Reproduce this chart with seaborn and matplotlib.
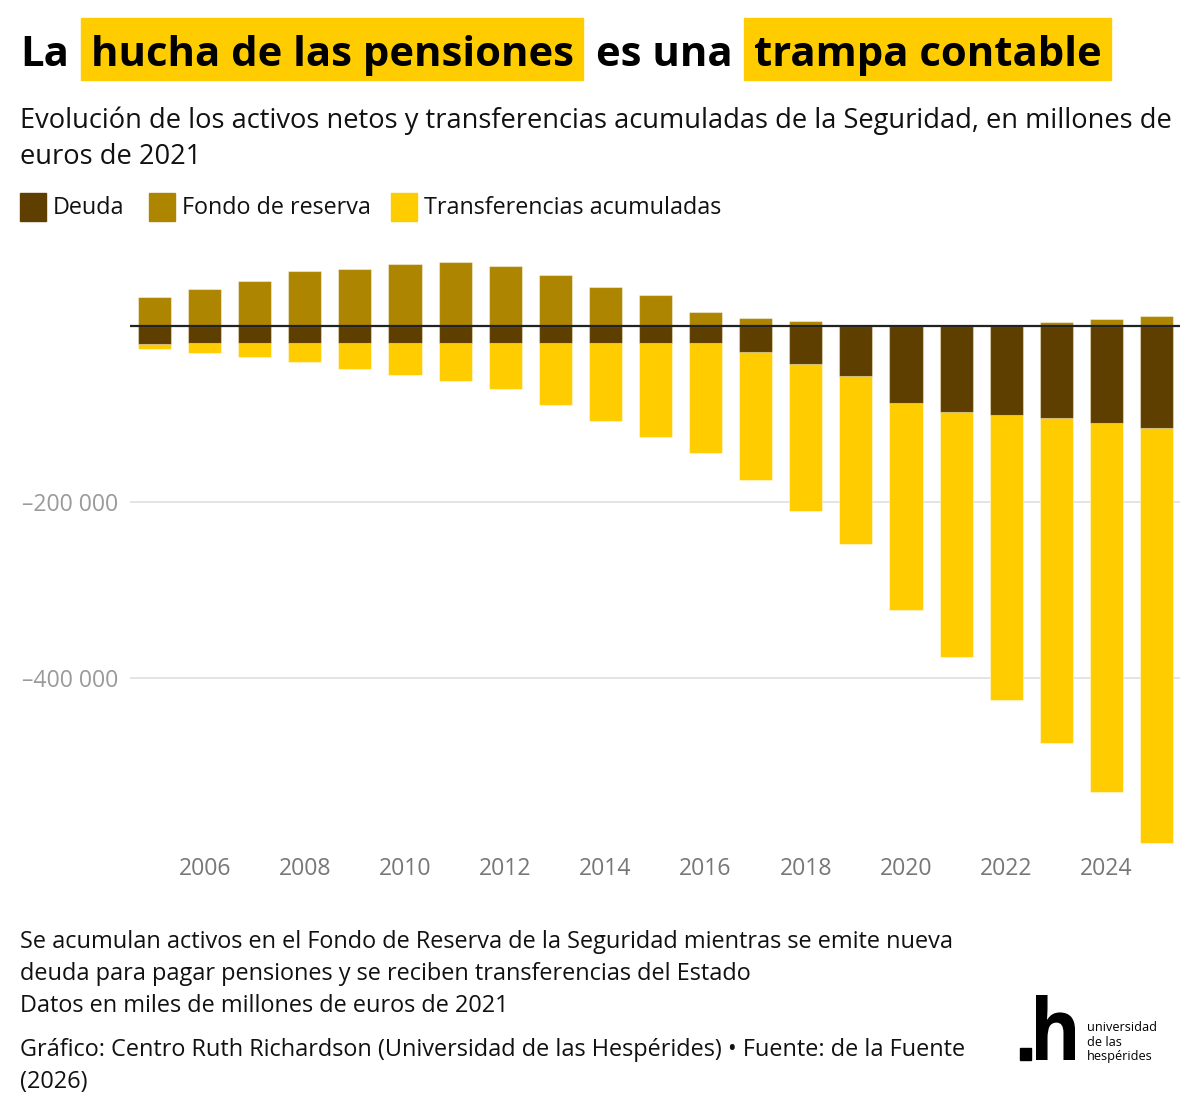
import numpy as np
import pandas as pd
import matplotlib
matplotlib.use("Agg")
import matplotlib.pyplot as plt
import seaborn as sns
from matplotlib.patches import Rectangle, PathPatch
from matplotlib.textpath import TextPath
from matplotlib.font_manager import FontProperties
from matplotlib.transforms import Affine2D

# data (millones de euros de 2021)
years = list(range(2005, 2026))
fondo = [33000, 42000, 51100, 62800, 65500, 70500, 72700, 68900, 58300, 45000,
         35200, 15900, 9800, 5700, 1500, 1200, 1200, 1200, 4900, 8000, 11700]
deuda = [-20500, -19300, -18400, -18400, -18400, -18400, -18400, -18400, -18400, -18400,
         -18400, -18400, -28900, -43200, -56500, -87200, -97000, -100800, -104200, -109900, -115600]
transferencias = [-5000, -11000, -16800, -22500, -29800, -36900, -43700, -52800, -71400, -89200,
                  -107400, -125300, -145500, -167000, -191300, -234900, -278400, -323900, -369000, -419000, -471300]

legend_labels = ["Deuda", "Fondo de reserva", "Transferencias acumuladas"]
colors = ["#5e3f00", "#ad8500", "#ffcc00"]

df = pd.DataFrame({"year": years, "fondo": fondo, "deuda": deuda, "transf": transferencias})
df["total_neg"] = df["deuda"] + df["transf"]

sns.set_theme(style="white")
plt.rcParams["font.family"] = ["Open Sans", "Noto Sans", "DejaVu Sans"]

W, H = 1200, 1119
fig = plt.figure(figsize=(W / 100, H / 100), dpi=100)
ax = fig.add_axes([130 / W, 1 - 850 / H, 1050 / W, 600 / H])

bar_kw = dict(width=0.66, saturation=1, errorbar=None, ax=ax,
              edgecolor=(1, 1, 1, 0.45), linewidth=0.8)
# yellow = deuda + transferencias, dark deuda drawn on top of it
sns.barplot(data=df, x="year", y="total_neg", color=colors[2], **bar_kw)
sns.barplot(data=df, x="year", y="deuda", color=colors[0], **bar_kw)
sns.barplot(data=df, x="year", y="fondo", color=colors[1], **bar_kw)

ax.set_xlim(-0.49, 20.47)
ax.set_ylim(-595000, 86700)
ax.axhline(0, color="#222222", lw=1.6, zorder=5)
for v in [-200000, -400000]:
    ax.axhline(v, color="#e2e2e2", lw=1.3, zorder=0)

ax.set_yticks([-400000, -200000])
ax.set_yticklabels(["–400 000", "–200 000"])
xt = [i for i, y in enumerate(years) if y % 2 == 0]
ax.set_xticks(xt)
ax.set_xticklabels([str(years[i]) for i in xt])
ax.tick_params(axis="y", length=0, pad=8.5, labelsize=16.6, labelcolor="#9a9a9a")
ax.tick_params(axis="x", length=0, pad=5, labelsize=16.6, labelcolor="#777777")
ax.set_xlabel("")
ax.set_ylabel("")
for s in ax.spines.values():
    s.set_visible(False)
ax.set_facecolor("white")


def put(x, y, s, **kw):
    return fig.text(x / W, 1 - y / H, s, **kw)


renderer = fig.canvas.get_renderer()

# title with highlighted words
title_parts = [("La", False), ("hucha de las pensiones", True), ("es una", False), ("trampa contable", True)]
x = 20
for txt, hl in title_parts:
    if hl:
        x += 12
        t = put(x + 10, 66, txt, fontsize=30.2, weight="bold", va="baseline", color="black", zorder=3)
        w = t.get_window_extent(renderer).width
        fig.patches.append(Rectangle((x / W, 1 - 80 / H), (w + 19) / W, 62 / H,
                                     transform=fig.transFigure, color=colors[2], zorder=1))
        x += w + 19 + 13
    else:
        t = put(x, 66, txt, fontsize=30.2, weight="bold", va="baseline", color="black")
        x += t.get_window_extent(renderer).width

put(20, 128, "Evolución de los activos netos y transferencias acumuladas de la Seguridad, en millones de",
    fontsize=19.6, va="baseline", color="#111111")
put(20, 164, "euros de 2021", fontsize=19.6, va="baseline", color="#111111")

# legend
lx = [20, 149, 391]
for xx, lab, c in zip(lx, legend_labels, colors):
    fig.patches.append(Rectangle((xx / W, 1 - 221 / H), 26 / W, 28 / H,
                                 transform=fig.transFigure, color=c))
    put(xx + 33, 208, lab, fontsize=16.8, va="center", color="#111111")

# notes
notes = ["Se acumulan activos en el Fondo de Reserva de la Seguridad mientras se emite nueva",
         "deuda para pagar pensiones y se reciben transferencias del Estado",
         "Datos en miles de millones de euros de 2021"]
for i, n in enumerate(notes):
    put(20, 942 + 32 * i, n, fontsize=16.9, va="center", color="#111111")
put(20, 1050, "Gráfico: Centro Ruth Richardson (Universidad de las Hespérides) • Fuente: de la Fuente",
    fontsize=16.9, va="center", color="#111111")
put(20, 1082, "(2026)", fontsize=16.9, va="center", color="#111111")

# logo: square dot + narrow bold "h"
fig.patches.append(Rectangle((1020 / W, 1 - 1060 / H), 11 / W, 12 / H,
                             transform=fig.transFigure, color="black"))
hp = TextPath((0, 0), "h", size=100, prop=FontProperties(family="Open Sans", weight="bold"))
ext = hp.get_extents()
tr = (Affine2D().translate(-ext.x0, -ext.y0)
      .scale(39 / ext.width, 65 / ext.height).translate(1036, H - 1060))
fig.patches.append(PathPatch(hp, transform=tr, color="black", lw=0))
put(1087, 1042, "universidad\nde las\nhespérides", fontsize=9.2, va="center",
    color="black", linespacing=1.15)

fig.savefig("out.png", dpi=100, facecolor="white")
